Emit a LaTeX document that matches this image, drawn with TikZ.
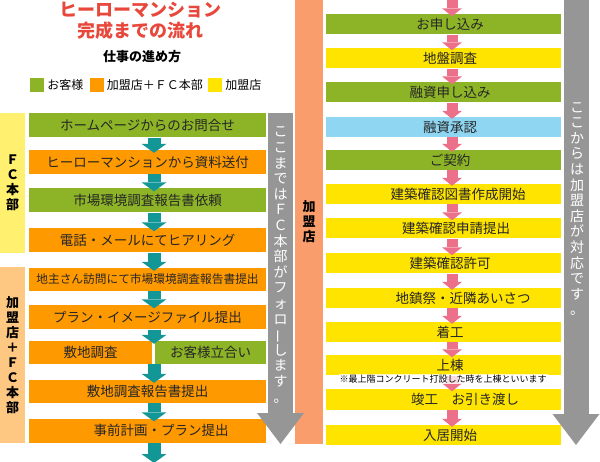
\documentclass[tikz,border=0pt]{standalone}
\usepackage{fontspec}
\setmainfont{Noto Sans CJK JP}
\usetikzlibrary{arrows.meta,calc,positioning}

\definecolor{kgreen}{RGB}{141,180,38}
\definecolor{korange}{RGB}{255,153,0}
\definecolor{kyellow}{RGB}{255,228,0}
\definecolor{kblue}{RGB}{143,214,242}
\definecolor{kteal}{RGB}{18,150,150}
\definecolor{kpink}{RGB}{236,112,137}
\definecolor{kgray}{RGB}{150,150,150}
\definecolor{ksalmon}{RGB}{250,157,108}
\definecolor{kred}{RGB}{232,72,60}
\definecolor{kpaleyel}{RGB}{255,240,112}
\definecolor{kpaleor}{RGB}{255,200,130}

\tikzset{
  lbox/.style={minimum width=237pt, minimum height=24pt, inner sep=0pt, text=black!85, font=\fontsize{13.5}{16}\selectfont},
  rbox/.style={minimum width=235pt, minimum height=20pt, inner sep=0pt, text=black!85, font=\fontsize{13.5}{16}\selectfont, execute at begin node={\hspace*{13pt}}},
  tarrow/.style={kteal, line width=13pt, -{Triangle[width=25pt,length=9pt,line width=0pt]}},
  parrow/.style={kpink, line width=11pt, -{Triangle[width=20pt,length=8pt,line width=0pt]}},
  garrow/.style={kgray, line width=25pt, -{Triangle[width=47pt,length=31pt,line width=0pt]}},
  sidebar/.style={align=center, inner sep=0pt, font=\bfseries\fontsize{13}{15}\selectfont},
  gtext/.style={align=center, inner sep=0pt, text=white, font=\fontsize{14}{15.6}\selectfont},
  legend/.style={minimum size=14pt, inner sep=0pt},
  legtext/.style={inner sep=0pt, font=\fontsize{12}{14}\selectfont},
}

\begin{document}
\begin{tikzpicture}[x=1pt,y=-1pt]
  \useasboundingbox (0,0) rectangle (600,462);

  % title and legend
  \node[align=center, text=kred, font=\bfseries\fontsize{18}{21}\selectfont] (title) at (140.5,20.5) {ヒーローマンション\\完成までの流れ};
  \node[font=\bfseries\fontsize{13}{15}\selectfont] (howto) at (142,57) {仕事の進め方};
  \node[legend, fill=kgreen] (lg1) at (37,85) {};
  \node[legtext, right=3pt of lg1] (lt1) {お客様};
  \node[legend, fill=korange] (lg2) at (96.5,85) {};
  \node[legtext, right=3pt of lg2] (lt2) {加盟店＋ＦＣ本部};
  \node[legend, fill=kyellow] (lg3) at (215,85) {};
  \node[legtext, right=3pt of lg3] (lt3) {加盟店};

  % side labels
  \node[sidebar, fill=kpaleyel, minimum width=25pt, minimum height=140pt] (fc) at (12.5,183) {Ｆ\\Ｃ\\本\\部};
  \node[sidebar, fill=kpaleor, minimum width=25pt, minimum height=176pt] (kfc) at (12.5,355) {加\\盟\\店\\＋\\Ｆ\\Ｃ\\本\\部};
  \node[sidebar, fill=ksalmon, minimum width=28pt, minimum height=444pt] (kbar) at (309,222) {加\\盟\\店};

  % left flow
  \node[lbox, fill=kgreen] (r1) at (147.5,125.5) {ホームページからのお問合せ};
  \node[lbox, fill=korange] (r2) at (147.5,162) {ヒーローマンションから資料送付};
  \node[lbox, fill=kgreen] (r3) at (147.5,200.5) {市場環境調査報告書依頼};
  \node[lbox, fill=korange] (r4) at (147.5,240.5) {電話・メールにてヒアリング};
  \node[lbox, fill=korange, minimum height=23pt, font=\fontsize{11.7}{14}\selectfont] (r5) at (147.5,279.5) {地主さん訪問にて市場環境調査報告書提出};
  \node[lbox, fill=korange] (r6) at (147.5,317.5) {プラン・イメージファイル提出};
  \node[lbox, fill=korange, minimum width=123pt, minimum height=23pt] (r7a) at (90.5,352.5) {敷地調査};
  \node[lbox, fill=kgreen, minimum width=111pt, minimum height=23pt] (r7b) at (210.5,352.5) {お客様立合い};
  \node[lbox, fill=korange, minimum height=23pt] (r8) at (147.5,391.5) {敷地調査報告書提出};
  \node[lbox, fill=korange] (r9) at (147.5,430.5) {\hspace*{27pt}事前計画・プラン提出};

  % right flow
  \node[rbox, fill=kgreen] (q1) at (443.5,24.5) {お申し込み};
  \node[rbox, fill=kyellow] (q2) at (443.5,58.5) {地盤調査};
  \node[rbox, fill=kgreen] (q3) at (443.5,92.5) {融資申し込み};
  \node[rbox, fill=kblue] (q4) at (443.5,127) {融資承認};
  \node[rbox, fill=kgreen] (q5) at (443.5,160) {ご契約};
  \node[rbox, fill=kyellow] (q6) at (443.5,194) {\hspace*{16pt}建築確認図書作成開始};
  \node[rbox, fill=kyellow] (q7) at (443.5,228.5) {\hspace*{12pt}建築確認申請提出};
  \node[rbox, fill=kyellow] (q8) at (443.5,263.5) {建築確認許可};
  \node[rbox, fill=kyellow] (q9) at (443.5,298) {\hspace*{26pt}地鎮祭・近隣あいさつ};
  \node[rbox, fill=kyellow] (q10) at (443.5,332) {着工};
  \node[rbox, fill=kyellow] (q11) at (443.5,365.5) {上棟};
  \node[rbox, fill=kyellow] (q12) at (443.5,399.5) {\hspace*{30pt}竣工　お引き渡し};
  \node[rbox, fill=kyellow] (q13) at (443.5,435) {入居開始};

  % arrows
  \coordinate (ax) at (154,0);
  \coordinate (tend) at (154,463);
  \foreach \a/\b in {r1/r2,r2/r3,r3/r4,r4/r5,r5/r6,r6/r7a,r7a/r8,r8/r9}
    \draw[tarrow] (ax |- \a.south) -- ($(ax |- \b.north)+(0,3)$);
  \draw[tarrow] (ax |- r9.south) -- (tend);

  \coordinate (bx) at (452,0);
  \draw[parrow] (bx) -- ($(bx |- q1.north)+(0,2)$);
  \foreach \a/\b in {q1/q2,q2/q3,q3/q4,q4/q5,q5/q6,q6/q7,q7/q8,q8/q9,q9/q10,q10/q11,q11/q12,q12/q13}
    \draw[parrow] (bx |- \a.south) -- ($(bx |- \b.north)+(0,2)$);

  \node[fill=white, fill opacity=0.75, text opacity=1, inner sep=1pt, font=\fontsize{9}{10}\selectfont] (note) at (443,379) {※最上階コンクリート打設した時を上棟といいます};

  % gray arrows
  \coordinate (g1top) at (280.5,113);
  \coordinate (g1tip) at (280.5,444);
  \draw[garrow] (g1top) -- (g1tip);
  \node[gtext] (g1txt) at (280.5,265) {こ\\こ\\ま\\で\\は\\Ｆ\\Ｃ\\本\\部\\が\\フ\\ォ\\ロ\\\rotatebox[origin=c]{90}{ー}\\し\\ま\\す\\。};
  \coordinate (g2top) at (576,0);
  \coordinate (g2tip) at (576,445);
  \draw[garrow] (g2top) -- (g2tip);
  \node[gtext] (g2txt) at (577,209) {こ\\こ\\か\\ら\\は\\加\\盟\\店\\が\\対\\応\\で\\す\\。};
\end{tikzpicture}
\end{document}
